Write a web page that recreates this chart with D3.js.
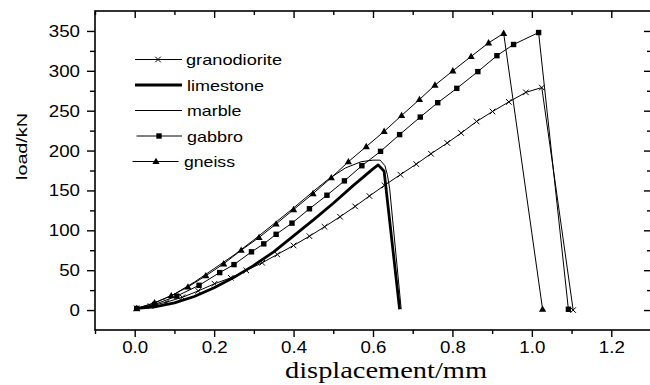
<!DOCTYPE html>
<html>
<head>
<meta charset="utf-8">
<script src="https://cdn.jsdelivr.net/npm/d3@7"></script>
<style>
  html, body { margin: 0; padding: 0; background: #fff; }
  svg { display: block; }
  text { font-family: "Liberation Sans", Arial, sans-serif; fill: #000; }
</style>
</head>
<body>
<svg id="chart" width="650" height="385"></svg>
<script>
// ---- data ----
const granodioriteX = [0.005, 0.04, 0.08, 0.12, 0.16, 0.201, 0.242, 0.281, 0.321, 0.359, 0.400, 0.440, 0.478, 0.517, 0.555, 0.591, 0.629, 0.669, 0.709, 0.746, 0.787, 0.822, 0.861, 0.901, 0.942, 0.985, 1.025, 1.104];
const granodioriteY = [2, 5, 10, 16, 24, 33, 40.5, 49.7, 59.3, 69.7, 81, 92.6, 104.4, 117, 130, 143, 156.4, 169.8, 183, 196, 209.5, 222, 236.5, 249, 261, 273, 279, 0];

const limestoneX = [0.005, 0.05, 0.1, 0.15, 0.2, 0.25, 0.3, 0.35, 0.4, 0.45, 0.5, 0.55, 0.6, 0.613, 0.628, 0.667];
const limestoneY = [2, 4, 9, 17, 28, 41, 56, 73, 93, 113, 134, 156, 177, 182, 174, 1];

const marbleX = [0.005, 0.05, 0.1, 0.15, 0.2, 0.25, 0.3, 0.35, 0.4, 0.45, 0.49, 0.53, 0.57, 0.6, 0.618, 0.63, 0.636, 0.642, 0.671];
const marbleY = [2, 9, 20, 35, 52, 69, 88, 108, 128, 149, 165, 178, 186, 188, 188, 181, 170, 152, 1];

const gabbroX = [0.005, 0.05, 0.106, 0.162, 0.214, 0.250, 0.294, 0.325, 0.356, 0.396, 0.440, 0.484, 0.528, 0.572, 0.619, 0.667, 0.719, 0.763, 0.811, 0.864, 0.912, 0.954, 1.017, 1.092];
const gabbroY = [2, 7, 17.5, 31, 47, 57, 73, 83, 95, 109, 127, 144, 162, 181, 199, 220, 242, 260, 278, 299, 319, 333, 348, 1];

const gneissX = [0.005, 0.05, 0.092, 0.134, 0.179, 0.224, 0.268, 0.313, 0.356, 0.400, 0.449, 0.495, 0.538, 0.583, 0.628, 0.672, 0.717, 0.756, 0.801, 0.847, 0.891, 0.929, 1.027];
const gneissY = [2, 9, 18, 29, 43, 58, 75, 91, 108, 126, 146, 166, 186, 205, 224, 244, 264, 282, 300, 318, 335, 347, 1];

const xMajorTicks = [0.0, 0.2, 0.4, 0.6, 0.8, 1.0, 1.2];
const xMinorTicks = [-0.1, 0.1, 0.3, 0.5, 0.7, 0.9, 1.1, 1.3];
const yMajorTicks = [0, 50, 100, 150, 200, 250, 300, 350];
const yMinorTicks = [25, 75, 125, 175, 225, 275, 325];

const seriesNames = ["granodiorite", "limestone", "marble", "gabbro", "gneiss"];
const xLabel = "displacement/mm";
const yLabel = "load/kN";

// ---- build ----
const zip = (xs, ys) => xs.map((x, i) => [x, ys[i]]);
const series = [
  { name: "granodiorite", pts: zip(granodioriteX, granodioriteY), width: 1, marker: "x" },
  { name: "limestone", pts: zip(limestoneX, limestoneY), width: 2.8, marker: null },
  { name: "marble", pts: zip(marbleX, marbleY), width: 1, marker: null },
  { name: "gabbro", pts: zip(gabbroX, gabbroY), width: 1, marker: "square" },
  { name: "gneiss", pts: zip(gneissX, gneissY), width: 1, marker: "triangle" }
];

const svg = d3.select("#chart");
const x = d3.scaleLinear().domain([-0.1, 1.3]).range([95, 651]);
const y = d3.scaleLinear().domain([-25, 375]).range([330, 11]);

// frame
svg.append("rect")
  .attr("x", x(-0.1)).attr("y", y(375))
  .attr("width", x(1.3) - x(-0.1)).attr("height", y(-25) - y(375))
  .attr("fill", "none").attr("stroke", "#000").attr("stroke-width", 1.6);

function styleAxis(g) {
  g.select(".domain").remove();
  g.selectAll(".tick line").attr("stroke", "#000").attr("stroke-width", 1.4);
}
function widenLabels(sel) {
  sel.attr("font-size", 17).attr("font-family", "Liberation Sans, Arial, sans-serif");
  sel.each(function () {
    const w = this.getComputedTextLength();
    d3.select(this).attr("textLength", w * 1.1).attr("lengthAdjust", "spacingAndGlyphs");
  });
}

// bottom axis
svg.append("g").attr("transform", `translate(0,${y(-25)})`)
  .call(d3.axisBottom(x).tickValues(xMinorTicks).tickSize(4).tickFormat(""))
  .call(styleAxis);
const xb = svg.append("g").attr("transform", `translate(0,${y(-25)})`)
  .call(d3.axisBottom(x).tickValues(xMajorTicks).tickSize(7).tickPadding(4).tickFormat(d3.format(".1f")))
  .call(styleAxis);
widenLabels(xb.selectAll("text"));

// top axis (inward)
svg.append("g").attr("transform", `translate(0,${y(375)})`)
  .call(d3.axisTop(x).tickValues(xMinorTicks).tickSize(-4).tickFormat(""))
  .call(styleAxis);
svg.append("g").attr("transform", `translate(0,${y(375)})`)
  .call(d3.axisTop(x).tickValues(xMajorTicks).tickSize(-7).tickFormat(""))
  .call(styleAxis);

// left axis
svg.append("g").attr("transform", `translate(${x(-0.1)},0)`)
  .call(d3.axisLeft(y).tickValues(yMinorTicks).tickSize(5).tickFormat(""))
  .call(styleAxis);
const yl = svg.append("g").attr("transform", `translate(${x(-0.1)},0)`)
  .call(d3.axisLeft(y).tickValues(yMajorTicks).tickSize(8).tickPadding(7).tickFormat(d3.format("d")))
  .call(styleAxis);
widenLabels(yl.selectAll("text"));

// right axis (inward)
svg.append("g").attr("transform", `translate(${x(1.3)},0)`)
  .call(d3.axisRight(y).tickValues(yMinorTicks).tickSize(-4).tickFormat(""))
  .call(styleAxis);
svg.append("g").attr("transform", `translate(${x(1.3)},0)`)
  .call(d3.axisRight(y).tickValues(yMajorTicks).tickSize(-7).tickFormat(""))
  .call(styleAxis);

// axis titles
svg.append("text")
  .attr("x", 386).attr("y", 378)
  .attr("text-anchor", "middle")
  .style("font-family", "'Liberation Serif', 'Times New Roman', serif")
  .attr("font-size", 24)
  .attr("textLength", 202).attr("lengthAdjust", "spacingAndGlyphs")
  .text(xLabel);

svg.append("text")
  .attr("transform", "translate(27,146.5) rotate(-90)")
  .attr("text-anchor", "middle")
  .attr("font-size", 15)
  .attr("textLength", 67).attr("lengthAdjust", "spacingAndGlyphs")
  .text(yLabel);

// lines
const line = d3.line().x(d => x(d[0])).y(d => y(d[1]));
const plot = svg.append("g");

function drawMarker(g, type, cx, cy) {
  if (type === "x") {
    const s = 2.8;
    g.append("path")
      .attr("d", `M${cx - s},${cy - s}L${cx + s},${cy + s}M${cx - s},${cy + s}L${cx + s},${cy - s}`)
      .attr("stroke", "#000").attr("stroke-width", 1).attr("fill", "none");
  } else if (type === "square") {
    g.append("rect").attr("x", cx - 2.7).attr("y", cy - 2.7)
      .attr("width", 5.4).attr("height", 5.4).attr("fill", "#000");
  } else if (type === "triangle") {
    g.append("path")
      .attr("d", `M${cx},${cy - 3.8}L${cx + 3.6},${cy + 2.6}L${cx - 3.6},${cy + 2.6}Z`)
      .attr("fill", "#000");
  }
}

series.forEach(s => {
  plot.append("path").datum(s.pts)
    .attr("d", line)
    .attr("fill", "none")
    .attr("stroke", "#000")
    .attr("stroke-width", s.width)
    .attr("stroke-linejoin", "round");
  if (s.marker) {
    const mg = plot.append("g");
    s.pts.forEach(p => drawMarker(mg, s.marker, x(p[0]), y(p[1])));
  }
});

// legend
const legendRows = [
  { ly: 59.5, x1: 135, x2: 182, mx: 158, tx: 186, ty: 65, tl: 96 },
  { ly: 85, x1: 135, x2: 182, mx: 158, tx: 187, ty: 90.5, tl: 77 },
  { ly: 110.5, x1: 135, x2: 182, mx: 158, tx: 187, ty: 116, tl: 54.5 },
  { ly: 136, x1: 136.5, x2: 182, mx: 159, tx: 187, ty: 141.5, tl: 56 },
  { ly: 161.5, x1: 132.5, x2: 178.5, mx: 156, tx: 184, ty: 167, tl: 51 }
];
const legend = svg.append("g");
series.forEach((s, i) => {
  const r = legendRows[i];
  legend.append("line")
    .attr("x1", r.x1).attr("x2", r.x2).attr("y1", r.ly).attr("y2", r.ly)
    .attr("stroke", "#000").attr("stroke-width", s.width);
  if (s.marker) drawMarker(legend, s.marker, r.mx, r.ly);
  legend.append("text")
    .attr("x", r.tx).attr("y", r.ty)
    .attr("font-size", 15)
    .attr("textLength", r.tl).attr("lengthAdjust", "spacingAndGlyphs")
    .text(seriesNames[i]);
});
</script>
</body>
</html>
